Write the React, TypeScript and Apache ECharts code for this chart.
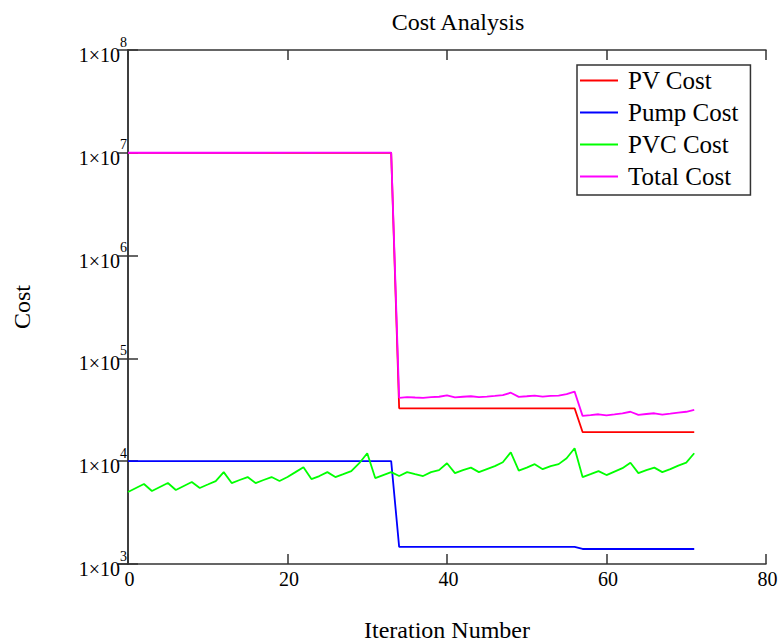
import React, { useEffect, useRef } from "react";
import * as echarts from "echarts";

const iterations = Array.from({ length: 72 }, (_, i) => i);

const pvCost = [
  10000000, 10000000, 10000000, 10000000, 10000000, 10000000, 10000000, 10000000, 10000000, 10000000,
  10000000, 10000000, 10000000, 10000000, 10000000, 10000000, 10000000, 10000000, 10000000, 10000000,
  10000000, 10000000, 10000000, 10000000, 10000000, 10000000, 10000000, 10000000, 10000000, 10000000,
  10000000, 10000000, 10000000, 10000000,
  32700, 32700, 32700, 32700, 32700, 32700, 32700, 32700, 32700, 32700,
  32700, 32700, 32700, 32700, 32700, 32700, 32700, 32700, 32700, 32700,
  32700, 32700, 32700,
  19200, 19200, 19200, 19200, 19200, 19200, 19200, 19200, 19200, 19200,
  19200, 19200, 19200, 19200, 19200,
];

const pumpCost = [
  10000, 10000, 10000, 10000, 10000, 10000, 10000, 10000, 10000, 10000,
  10000, 10000, 10000, 10000, 10000, 10000, 10000, 10000, 10000, 10000,
  10000, 10000, 10000, 10000, 10000, 10000, 10000, 10000, 10000, 10000,
  10000, 10000, 10000, 10000,
  1470, 1470, 1470, 1470, 1470, 1470, 1470, 1470, 1470, 1470,
  1470, 1470, 1470, 1470, 1470, 1470, 1470, 1470, 1470, 1470,
  1470, 1470, 1470,
  1400, 1400, 1400, 1400, 1400, 1400, 1400, 1400, 1400, 1400,
  1400, 1400, 1400, 1400, 1400,
];

const pvcCost = [
  5020, 5490, 6000, 5130, 5610, 6130, 5250, 5740, 6270, 5490,
  5930, 6410, 7830, 6130, 6560, 7010, 6130, 6560, 7010, 6410,
  7010, 7830, 8750, 6700, 7170, 7830, 7010, 7490, 8010, 9560,
  11950, 6850, 7330, 7830, 7170, 7830, 7490, 7170, 7830, 8190,
  9560, 7660, 8190, 8660, 7830, 8370, 8950, 9780, 12210, 8100,
  8660, 9360, 8370, 8950, 9360, 10690, 13350, 7010, 7490, 8010,
  7330, 7920, 8560, 9670, 7660, 8190, 8660, 7830, 8370, 9050,
  9670, 11950,
];

const totalCost = [
  10015020, 10015490, 10016000, 10015130, 10015610, 10016130, 10015250, 10015740, 10016270, 10015490,
  10015930, 10016410, 10017830, 10016130, 10016560, 10017010, 10016130, 10016560, 10017010, 10016410,
  10017010, 10017830, 10018750, 10016700, 10017170, 10017830, 10017010, 10017490, 10018010, 10019560,
  10021950, 10016850, 10017330, 10017830,
  41340, 42000, 41660, 41340, 42000, 42360, 43730, 41830, 42360, 42830,
  42000, 42540, 43120, 43950, 46380, 42270, 42830, 43530, 42540, 43120,
  43530, 44860, 47520,
  27610, 28090, 28610, 27930, 28520, 29160, 30270, 28260, 28790, 29260,
  28430, 28970, 29650, 30270, 31550,
];

const seriesNames = ["PV Cost", "Pump Cost", "PVC Cost", "Total Cost"];
const seriesColors = ["#ff0000", "#0000ff", "#00ff00", "#ff00ff"];
const xTicks = [0, 20, 40, 60, 80];
const yTickExponents = [3, 4, 5, 6, 7, 8];

const FONT = "'Liberation Serif', 'Times New Roman', serif";

export default function App() {
  const ref = useRef<HTMLDivElement>(null);

  useEffect(() => {
    if (!ref.current) return;
    const chart = echarts.init(ref.current, null, { renderer: "svg" });
    const seriesData = [pvCost, pumpCost, pvcCost, totalCost];
    const frameColor = "#333";
    const expOf = (v: number) => {
      const e = yTickExponents.find((x) => Math.abs(Math.pow(10, x) - v) / v < 1e-6);
      return e === undefined ? "" : String(e);
    };
    chart.setOption({
      animation: false,
      backgroundColor: "#fff",
      title: {
        text: "Cost Analysis",
        left: 453,
        top: 5,
        textAlign: "center",
        textStyle: { fontFamily: FONT, fontSize: 24, fontWeight: "normal", color: "#000" },
      },
      legend: {
        orient: "vertical",
        left: 577,
        top: 65,
        padding: [3, 12, 6, 3],
        itemGap: 7,
        itemWidth: 38,
        itemHeight: 2,
        icon: "rect",
        borderColor: frameColor,
        borderWidth: 1.5,
        backgroundColor: "#fff",
        data: seriesNames,
        textStyle: {
          fontFamily: FONT,
          fontSize: 25,
          lineHeight: 24,
          color: "#000",
          padding: [0, 0, 0, 5],
        },
      },
      grid: {
        left: 128,
        top: 50,
        right: 13,
        bottom: 79,
        containLabel: false,
        outerBoundsMode: "none",
      },
      xAxis: [
        {
          type: "value",
          min: xTicks[0],
          max: xTicks[xTicks.length - 1],
          interval: 20,
          position: "bottom",
          name: "Iteration Number",
          nameLocation: "middle",
          nameGap: 54,
          nameTextStyle: { fontFamily: FONT, fontSize: 24, color: "#000" },
          axisLine: { show: true, lineStyle: { color: frameColor, width: 1.5 } },
          axisTick: { show: true, inside: true, length: 10, lineStyle: { color: frameColor, width: 1.5 } },
          axisLabel: { fontFamily: FONT, fontSize: 20, color: "#000", margin: 5, padding: [0, 0, 0, 3] },
          splitLine: { show: false },
        },
        {
          type: "value",
          min: xTicks[0],
          max: xTicks[xTicks.length - 1],
          interval: 20,
          position: "top",
          axisLine: { show: true, lineStyle: { color: frameColor, width: 1.5 } },
          axisTick: { show: true, inside: true, length: 10, lineStyle: { color: frameColor, width: 1.5 } },
          axisLabel: { show: false },
          splitLine: { show: false },
        },
      ],
      yAxis: [
        {
          type: "log",
          logBase: 10,
          min: Math.pow(10, yTickExponents[0]),
          max: Math.pow(10, yTickExponents[yTickExponents.length - 1]),
          position: "left",
          name: "Cost",
          nameLocation: "middle",
          nameRotate: 90,
          nameGap: 94,
          nameTextStyle: { fontFamily: FONT, fontSize: 24, color: "#000" },
          axisLine: { show: true, lineStyle: { color: frameColor, width: 1.5 } },
          axisTick: { show: true, inside: true, length: 10, lineStyle: { color: frameColor, width: 1.5 } },
          minorTick: { show: false },
          splitLine: { show: false },
          axisLabel: {
            margin: 1,
            formatter: (v: number) => `{base|1×10}{sup|${expOf(v)}}`,
            rich: {
              base: { fontFamily: FONT, fontSize: 20, color: "#000", lineHeight: 30, verticalAlign: "bottom" },
              sup: { fontFamily: FONT, fontSize: 14, color: "#000", lineHeight: 29, verticalAlign: "top" },
            },
          },
        },
        {
          type: "log",
          logBase: 10,
          min: Math.pow(10, yTickExponents[0]),
          max: Math.pow(10, yTickExponents[yTickExponents.length - 1]),
          position: "right",
          axisLine: { show: true, lineStyle: { color: frameColor, width: 1.5 } },
          axisTick: { show: true, inside: true, length: 10, lineStyle: { color: frameColor, width: 1.5 } },
          axisLabel: { show: false },
          splitLine: { show: false },
        },
      ],
      series: seriesNames.map((name, si) => ({
        name,
        type: "line",
        xAxisIndex: 0,
        yAxisIndex: 0,
        symbol: "none",
        showSymbol: false,
        color: seriesColors[si],
        lineStyle: { color: seriesColors[si], width: 1.8 },
        data: iterations.map((it, i) => [it, seriesData[si][i]]),
        z: 2 + si,
      })),
    });
    return () => chart.dispose();
  }, []);

  return (
    <div
      ref={ref}
      style={{ position: "fixed", left: 0, top: 0, width: 779, height: 643, background: "#fff" }}
    />
  );
}
